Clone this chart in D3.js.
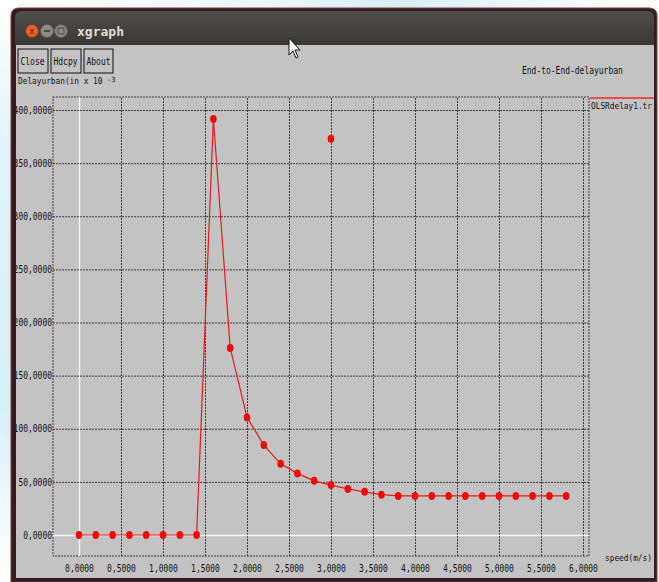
<!DOCTYPE html>
<html>
<head>
<meta charset="utf-8">
<script src="https://cdn.jsdelivr.net/npm/d3@7/dist/d3.min.js"></script>
<style>
  html, body { margin: 0; padding: 0; background: #ffffff; }
  svg { display: block; }
  text { font-family: "DejaVu Sans Mono", "Liberation Mono", monospace; }
</style>
</head>
<body>
<svg id="chart" width="659" height="582"></svg>
<script>
// ---- data ----
const speeds = [0.0, 0.2, 0.4, 0.6, 0.8, 1.0, 1.2, 1.4, 1.6, 1.8,
                2.0, 2.2, 2.4, 2.6, 2.8, 3.0, 3.2, 3.4, 3.6, 3.8,
                4.0, 4.2, 4.4, 4.6, 4.8, 5.0, 5.2, 5.4, 5.6, 5.8];
const delays = [0, 0, 0, 0, 0, 0, 0, 0, 391.5, 176,
                110.7, 84.6, 67, 58, 51, 47, 43.4, 40.6, 38, 36.8,
                36.8, 36.8, 36.8, 36.8, 36.8, 36.8, 36.8, 36.8, 36.8, 36.8];
const strayX = [3.0];
const strayY = [373];
const xTicks = [0, 0.5, 1, 1.5, 2, 2.5, 3, 3.5, 4, 4.5, 5, 5.5, 6];
const yTicks = [0, 50, 100, 150, 200, 250, 300, 350, 400];
const buttonLabels = ["Close", "Hdcpy", "About"];
const windowTitle = "xgraph";
const chartTitle = "End-to-End-delayurban";
const yAxisTitle = "Delayurban(in x 10";
const yAxisExp = "-3";
const xAxisTitle = "speed(m/s)";
const legendName = "OLSRdelay1.tr";

const svg = d3.select("#chart");
const CH = 4.8; // narrow fixed-width glyph advance used by xgraph's font
function narrow(sel, ch) {
  const w = ch || CH;
  sel.each(function () {
    const t = d3.select(this);
    const n = t.text().length;
    t.attr("textLength", n * w).attr("lengthAdjust", "spacingAndGlyphs");
  });
  return sel;
}

// ---- desktop background & window chrome ----
const defs = svg.append("defs");
const bg = defs.append("linearGradient").attr("id", "bg").attr("x1", 0).attr("x2", 1).attr("y1", 0).attr("y2", 0);
bg.append("stop").attr("offset", "0%").attr("stop-color", "#ffffff");
bg.append("stop").attr("offset", "40%").attr("stop-color", "#eaf6fb");
bg.append("stop").attr("offset", "60%").attr("stop-color", "#d8eef8");
bg.append("stop").attr("offset", "100%").attr("stop-color", "#ffffff");
svg.append("rect").attr("width", 659).attr("height", 582).attr("fill", "url(#bg)");
const lb = defs.append("linearGradient").attr("id", "lb").attr("x1", 0).attr("x2", 0).attr("y1", 0).attr("y2", 1);
lb.append("stop").attr("offset", "0%").attr("stop-color", "#ffffff");
lb.append("stop").attr("offset", "25%").attr("stop-color", "#dff4fb");
lb.append("stop").attr("offset", "70%").attr("stop-color", "#d6f0fa");
lb.append("stop").attr("offset", "100%").attr("stop-color", "#ffffff");
svg.append("rect").attr("x", 0).attr("y", 0).attr("width", 11).attr("height", 582).attr("fill", "url(#lb)");

// window outer frame
svg.append("path")
  .attr("d", "M11,582 L11,16 Q11,8 19,8 L649,8 Q657,8 657,16 L657,582 Z")
  .attr("fill", "#2e1d24").attr("stroke", "#8a3a22").attr("stroke-width", 1);
const tb = defs.append("linearGradient").attr("id", "tb").attr("x1", 0).attr("x2", 0).attr("y1", 0).attr("y2", 1);
tb.append("stop").attr("offset", "0%").attr("stop-color", "#4e4d48");
tb.append("stop").attr("offset", "100%").attr("stop-color", "#3a3935");
svg.append("path")
  .attr("d", "M15,45 L15,18 Q15,11 22,11 L647,11 Q654,11 654,18 L654,45 Z")
  .attr("fill", "url(#tb)");
// window buttons
svg.append("circle").attr("cx", 32).attr("cy", 31).attr("r", 6.5).attr("fill", "#e9602f").attr("stroke", "#7a3a20");
svg.append("text").attr("x", 32).attr("y", 34).attr("text-anchor", "middle").attr("font-size", 8).attr("fill", "#4a1a0a").text("x");
svg.append("circle").attr("cx", 47).attr("cy", 31).attr("r", 6.5).attr("fill", "#8c8a84").attr("stroke", "#5a5955");
svg.append("rect").attr("x", 44).attr("y", 30).attr("width", 6).attr("height", 2).attr("fill", "#4a4945");
svg.append("circle").attr("cx", 61).attr("cy", 31).attr("r", 6.5).attr("fill", "#8c8a84").attr("stroke", "#5a5955");
svg.append("rect").attr("x", 58).attr("y", 28).attr("width", 6).attr("height", 6).attr("fill", "none").attr("stroke", "#4a4945");
svg.append("text").attr("x", 77).attr("y", 36).attr("font-family", "'Liberation Sans', Arial, sans-serif")
  .attr("font-weight", "bold").attr("font-size", 13).attr("fill", "#e2ded6").text(windowTitle);

// client area
svg.append("rect").attr("x", 16).attr("y", 45).attr("width", 638).attr("height", 533).attr("fill", "#c3c3c3");
defs.append("clipPath").attr("id", "client")
  .append("rect").attr("x", 16).attr("y", 45).attr("width", 638).attr("height", 533);
const root = svg.append("g").attr("clip-path", "url(#client)");

// ---- chart ----
const frame = { left: 53, right: 589, top: 97, bottom: 556 };
const x = d3.scaleLinear().domain([0, 6]).range([79, 583]);
const y = d3.scaleLinear().domain([0, 400]).range([535, 110]);
const fmt = v => d3.format(".4f")(v).replace(".", ",");

const gridColor = "#3c3c3c";
const dash = "2,1";

// frame (dotted)
root.append("rect")
  .attr("x", frame.left).attr("y", frame.top)
  .attr("width", frame.right - frame.left).attr("height", frame.bottom - frame.top)
  .attr("fill", "none").attr("stroke", gridColor).attr("stroke-dasharray", dash).attr("stroke-width", 1);

// x axis with grid
const gx = root.append("g").attr("transform", `translate(0,${frame.bottom})`)
  .call(d3.axisBottom(x).tickValues(xTicks).tickFormat(fmt)
    .tickSizeInner(-(frame.bottom - frame.top)).tickSizeOuter(0).tickPadding(9));
gx.select(".domain").remove();
gx.selectAll(".tick line").attr("stroke", gridColor).attr("stroke-dasharray", dash);
gx.selectAll(".tick text").attr("font-size", 10).attr("fill", "#111").attr("font-family", null).call(narrow);

// y axis with grid
const gy = root.append("g").attr("transform", `translate(${frame.left},0)`)
  .call(d3.axisLeft(y).tickValues(yTicks).tickFormat(fmt)
    .tickSizeInner(-(frame.right - frame.left)).tickSizeOuter(0).tickPadding(1));
gy.select(".domain").remove();
gy.selectAll(".tick line").attr("stroke", gridColor).attr("stroke-dasharray", dash);
gy.selectAll(".tick text").attr("font-size", 10).attr("fill", "#111").attr("font-family", null).call(narrow);

// zero lines (white)
gx.selectAll(".tick").filter(d => d === 0).select("line")
  .attr("stroke", "#f4f4f4").attr("stroke-dasharray", null).attr("stroke-width", 1.5);
gy.selectAll(".tick").filter(d => d === 0).select("line")
  .attr("stroke", "#f4f4f4").attr("stroke-dasharray", null).attr("stroke-width", 1.5);

// series line
const pts = speeds.map((s, i) => [s, delays[i]]);
root.append("path").datum(pts)
  .attr("fill", "none").attr("stroke", "#e8181c").attr("stroke-width", 1.2)
  .attr("d", d3.line().x(d => x(d[0])).y(d => y(d[1])));

// markers
root.append("g").selectAll("ellipse").data(pts).join("ellipse")
  .attr("cx", d => x(d[0])).attr("cy", d => y(d[1]))
  .attr("rx", 3.3).attr("ry", 4).attr("fill", "#f00a0a");
root.append("g").selectAll("ellipse").data(strayX.map((s, i) => [s, strayY[i]])).join("ellipse")
  .attr("cx", d => x(d[0])).attr("cy", d => y(d[1]))
  .attr("rx", 3.3).attr("ry", 4).attr("fill", "#f00a0a");

// titles and labels
svg.append("text").attr("transform", "translate(18,84) scale(1,1.2)").attr("font-size", 7.8).attr("fill", "#111")
  .text(yAxisTitle);
svg.append("text").attr("x", 107).attr("y", 82).attr("font-size", 7).attr("fill", "#111")
  .text(yAxisExp);
svg.append("text").attr("x", 522).attr("y", 74).attr("font-size", 10).attr("fill", "#111").text(chartTitle).call(narrow);
svg.append("text").attr("transform", "translate(605,561) scale(1,1.2)").attr("font-size", 7.8).attr("fill", "#111")
  .text(xAxisTitle);

// legend
svg.append("line").attr("x1", 590).attr("x2", 654).attr("y1", 98).attr("y2", 98)
  .attr("stroke", "#e85050").attr("stroke-width", 2);
svg.append("text").attr("transform", "translate(591,109) scale(1,1.2)").attr("font-size", 7.8).attr("fill", "#111")
  .text(legendName);

// buttons
const btnX = [18, 51, 84];
const btnW = [30, 30, 29];
const btn = svg.append("g").selectAll("g").data(buttonLabels).join("g")
  .attr("transform", (d, i) => `translate(${btnX[i]},49)`);
btn.append("rect").attr("width", (d, i) => btnW[i]).attr("height", 24)
  .attr("fill", "#c3c3c3").attr("stroke", "#111").attr("stroke-width", 1);
btn.append("text").attr("x", 2.5).attr("y", 16)
  .attr("font-size", 10).attr("fill", "#111").text(d => d).call(narrow);

// mouse pointer
svg.append("path")
  .attr("d", "M289,38 L289,55 L293,51 L296,58 L298,57 L295,50 L300,50 Z")
  .attr("fill", "#ffffff").attr("stroke", "#111").attr("stroke-width", 1);
</script>
</body>
</html>
